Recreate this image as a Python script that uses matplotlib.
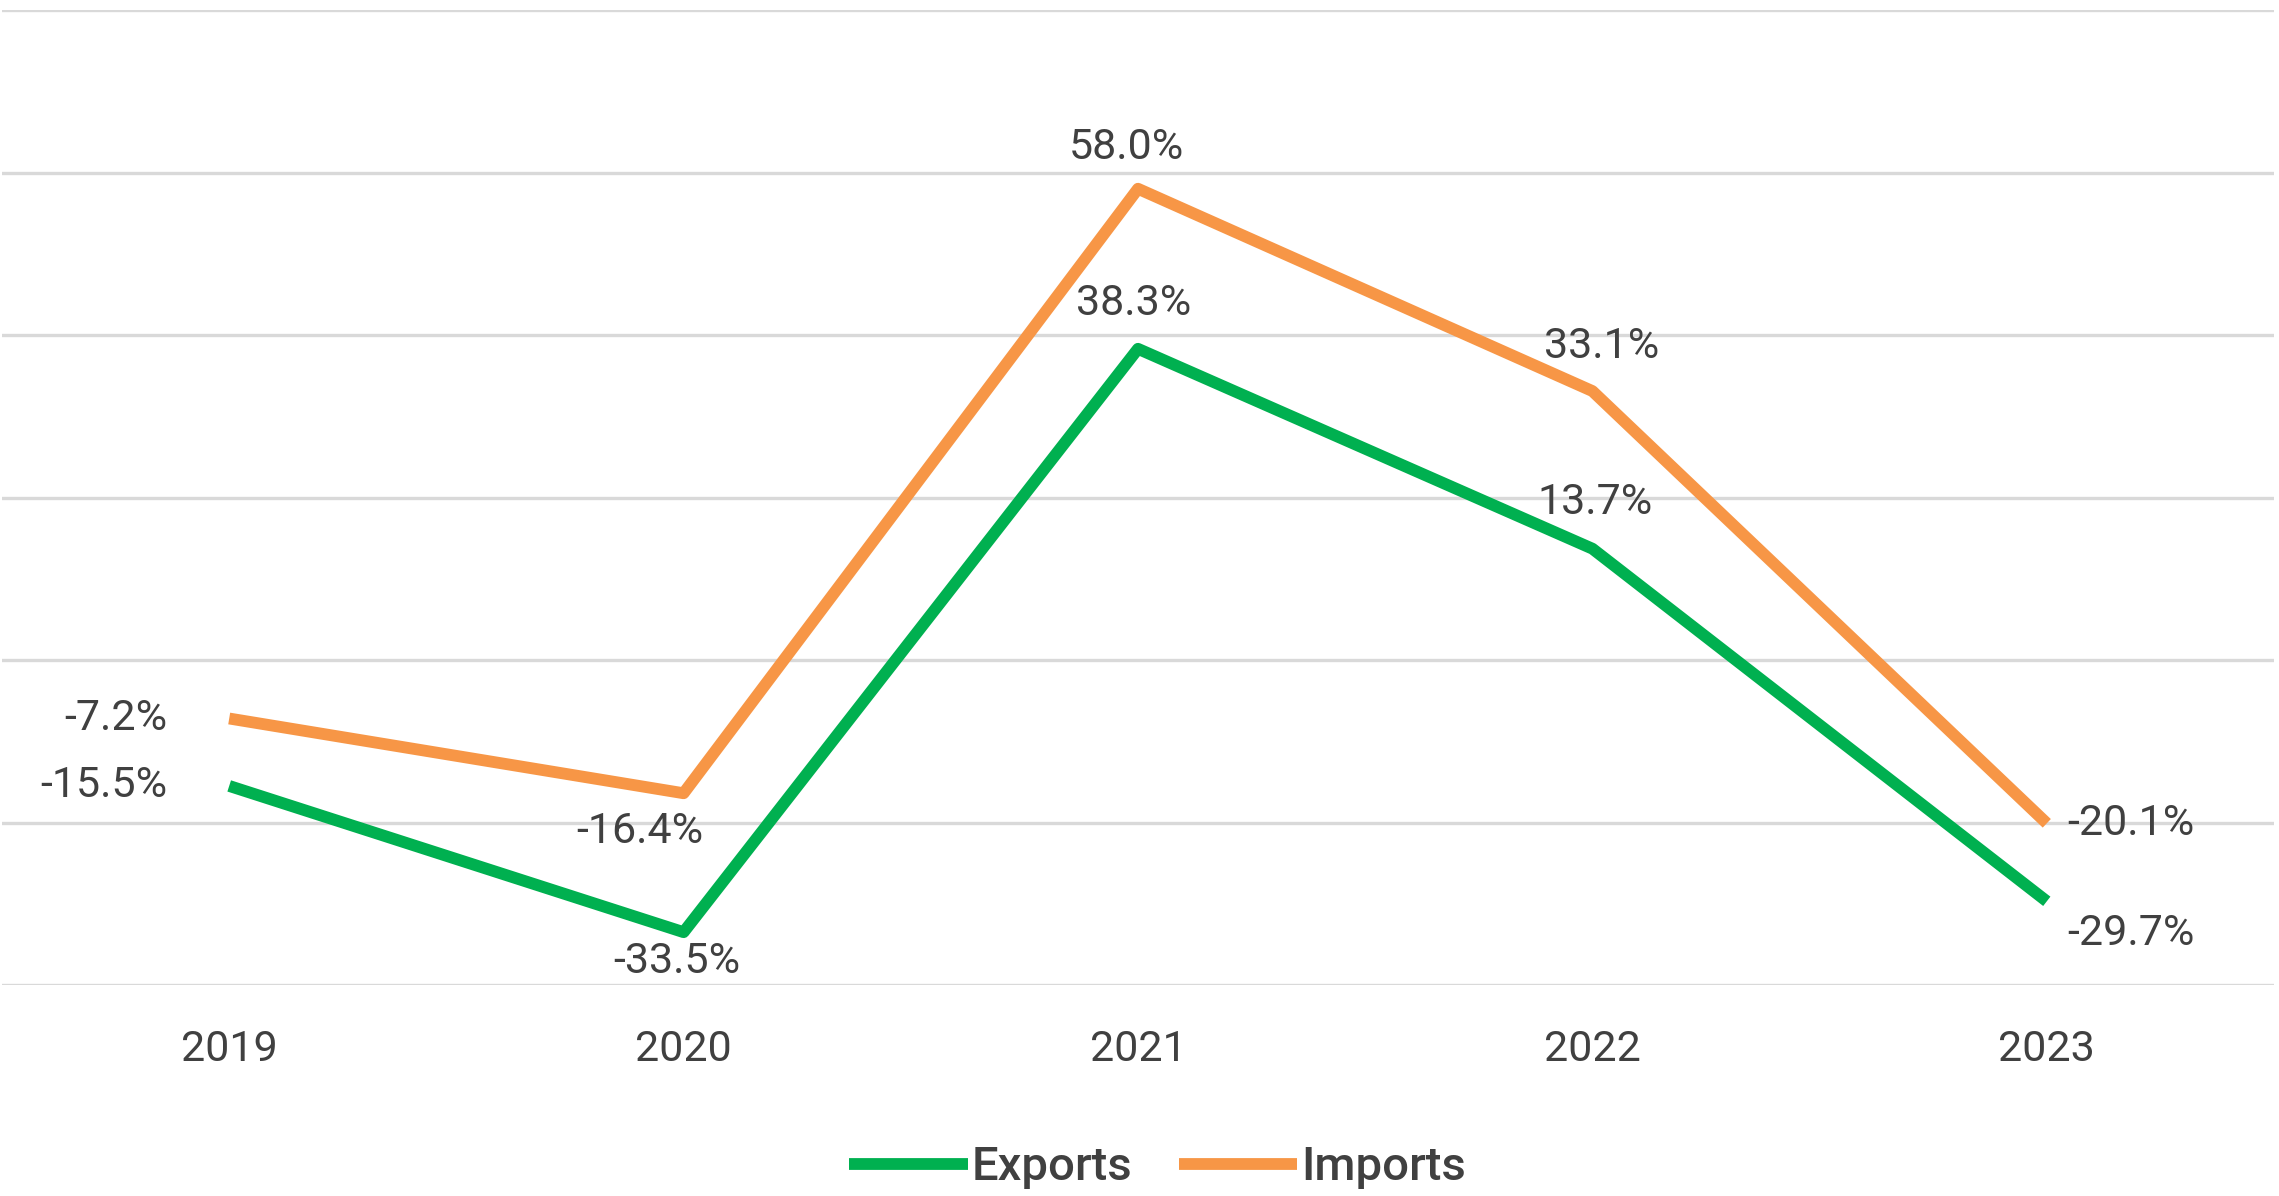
import matplotlib
matplotlib.use("Agg")
import matplotlib.pyplot as plt
from matplotlib import font_manager

years = ["2019", "2020", "2021", "2022", "2023"]
exports = [-15.5, -33.5, 38.3, 13.7, -29.7]
imports = [-7.2, -16.4, 58.0, 33.1, -20.1]
series_names = ["Exports", "Imports"]

available = {f.name for f in font_manager.fontManager.ttflist}
fam = ["Roboto", "DejaVu Sans"] if "Roboto" in available else ["DejaVu Sans"]
plt.rcParams["font.family"] = fam

TEXT = "#404040"
GREEN = "#00B050"
ORANGE = "#F79646"
GRID = "#D9D9D9"
FS = 31
LFS = 34

fig = plt.figure(figsize=(22.79, 11.96), dpi=100)
ax = fig.add_axes([2 / 2279, 1 - 985 / 1196, 2272 / 2279, 975 / 1196])

x = list(range(len(years)))
ax.plot(x, exports, color=GREEN, lw=8.5, solid_joinstyle="round", solid_capstyle="butt",
        label=series_names[0], zorder=3)
ax.plot(x, imports, color=ORANGE, lw=8.5, solid_joinstyle="round", solid_capstyle="butt",
        label=series_names[1], zorder=3)

ax.set_xlim(-0.5, len(years) - 0.5)
ax.set_ylim(-40, 80)
ax.set_yticks(range(-40, 81, 20))
ax.set_yticklabels([])
ax.set_xticks(x)
ax.set_xticklabels(years, fontsize=FS, color=TEXT)
ax.tick_params(axis="both", length=0)
ax.tick_params(axis="x", pad=32)
ax.grid(axis="y", color=GRID, lw=2.4)
ax.set_axisbelow(True)
for s in ax.spines.values():
    s.set_visible(False)

# (dx, dy, ha) in pixels for each label
exp_off = [(-62, 0, "right"), (-7, -29, "center"), (-4, 45, "center"), (3, 46, "center"), (20, -32, "left")]
imp_off = [(-62, 0, "right"), (-44, -38, "center"), (-12, 41, "center"), (9, 45, "center"), (20, 0, "left")]

for vals, offs in ((exports, exp_off), (imports, imp_off)):
    for xi, v, (dx, dy, ha) in zip(x, vals, offs):
        ax.annotate(f"{v:.1f}%", (xi, v), xytext=(dx, dy), textcoords="offset pixels",
                    ha=ha, va="center", fontsize=FS, color=TEXT, zorder=4)

leg = fig.legend(loc="center", bbox_to_anchor=(0.508, 0.024), ncol=2, frameon=False,
                 handlelength=2.5, handletextpad=0.08, columnspacing=1.0,
                 prop={"family": fam, "size": LFS, "weight": "medium"})
for t in leg.get_texts():
    t.set_color(TEXT)

fig.savefig("out.png", dpi=100, facecolor="white")
